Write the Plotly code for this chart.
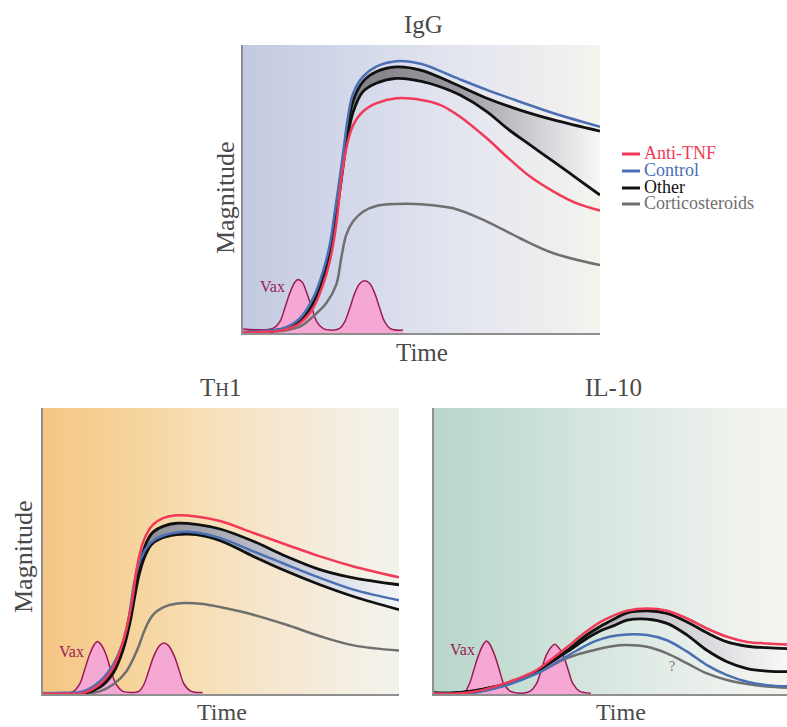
import plotly.graph_objects as go

W, H = 787, 727

# ---------------- DATA (x = time 0-100, y = magnitude 0-100) ----------------
# IgG panel
igg_vax_x = [0, 8.4, 10.3, 11.7, 13.1, 14.5, 15.4, 16.6, 17.9, 19.3, 20.7, 22.4, 24.3, 27.1, 28.5, 29.9, 31.3, 32.7, 34.1, 35.5, 36.9, 38.3, 39.7, 41.5, 44.8]
igg_vax_y = [1.4, 1.6, 3.9, 8.6, 13.8, 17.6, 18.6, 17.6, 13.8, 8.6, 3.9, 1.6, 1.0, 1.6, 3.9, 8.6, 13.8, 17.2, 18.1, 17.2, 13.8, 8.6, 3.9, 1.4, 1.0]

igg_blue_x = [0, 5.6, 11.2, 15.9, 19.6, 22.4, 24.3, 25.7, 27.1, 28.2, 29.4, 30.8, 33.6, 37.3, 43.0, 50.0, 58.9, 68.3, 77.6, 87.0, 100]
igg_blue_y = [0.3, 0.7, 1.6, 5.1, 12.0, 21.3, 30.6, 42.0, 54.0, 64.0, 75.0, 83.0, 89.0, 92.5, 94.4, 93.4, 89.0, 84.4, 80.3, 76.3, 71.6]

igg_hi_x = [0, 5.6, 11.2, 15.9, 19.6, 22.4, 24.3, 25.7, 27.1, 28.2, 29.4, 30.8, 33.6, 37.3, 43.0, 50.0, 58.9, 68.3, 77.6, 87.0, 100]
igg_hi_y = [0.2, 0.5, 1.4, 3.9, 10.3, 19.0, 28.2, 39.8, 51.4, 61.5, 72.5, 80.5, 87.3, 90.7, 92.4, 91.2, 86.7, 81.5, 77.4, 74.0, 70.1]

igg_lo_x = [0, 5.6, 11.2, 15.9, 19.6, 22.4, 24.3, 25.9, 27.3, 28.9, 30.8, 33.6, 37.3, 43.0, 50.0, 55.2, 60.8, 68.3, 73.9, 80.4, 87.0, 93.5, 100]
igg_lo_y = [0.2, 0.5, 1.3, 3.7, 10.0, 18.5, 27.5, 39.0, 51.0, 65.0, 76.5, 83.8, 86.7, 88.4, 87.4, 85.5, 82.6, 76.9, 71.1, 65.3, 59.5, 53.7, 47.9]

igg_red_x = [0, 5.6, 11.2, 15.9, 19.6, 22.4, 24.3, 26.1, 27.5, 28.9, 30.8, 33.6, 37.3, 43.0, 50.0, 55.2, 60.8, 68.3, 73.9, 80.4, 87.0, 93.5, 100]
igg_red_y = [0.2, 0.4, 1.0, 3.4, 8.6, 16.7, 24.8, 37.5, 53.0, 64.0, 72.0, 76.9, 79.7, 81.5, 80.9, 79.2, 75.1, 67.6, 61.2, 54.3, 49.1, 45.0, 42.5]

igg_gray_x = [0, 5.6, 11.2, 15.9, 19.6, 23.3, 26.1, 27.5, 28.9, 30.8, 33.6, 37.3, 43.0, 50.0, 58.9, 68.3, 77.6, 87.0, 100]
igg_gray_y = [0.1, 0.3, 0.8, 2.2, 5.7, 10.3, 16.7, 25.9, 34.0, 38.7, 42.1, 44.1, 44.8, 44.7, 43.3, 38.7, 32.9, 27.7, 23.6]

# TH1 panel
th1_vax_x = [0, 8.4, 10.3, 11.7, 13.1, 14.4, 15.3, 16.3, 17.7, 19.0, 20.5, 22.3, 24.5, 27.0, 28.4, 29.8, 31.2, 32.8, 34.0, 35.2, 36.8, 38.2, 39.6, 41.5, 44.8]
th1_vax_y = [0.5, 0.8, 3.5, 8.5, 13.8, 17.3, 18.4, 17.3, 13.8, 8.5, 3.5, 1.0, 0.5, 1.0, 3.5, 8.5, 13.5, 17.0, 17.8, 17.0, 13.5, 8.5, 3.5, 1.0, 0.5]

th1_red_x = [0, 5.6, 11.2, 15.9, 19.7, 22.5, 24.3, 25.3, 26.2, 27.6, 29.0, 30.9, 33.7, 37.5, 43.1, 50.0, 59.1, 68.4, 77.8, 87.2, 100]
th1_red_y = [0.1, 0.1, 0.3, 3.3, 9.1, 18.4, 27.7, 34.7, 42.9, 51.0, 55.7, 59.2, 61.5, 62.5, 62.1, 60.4, 56.3, 52.2, 48.1, 44.6, 40.8]

th1_hi_x = [0, 5.6, 11.2, 15.9, 19.7, 22.5, 24.3, 25.5, 26.5, 27.9, 29.2, 30.9, 33.7, 37.5, 43.1, 50.0, 59.1, 68.4, 77.8, 87.2, 100]
th1_hi_y = [0.1, 0.1, 0.2, 2.7, 8.5, 17.2, 26.6, 34.7, 41.7, 48.7, 53.4, 56.6, 58.6, 59.7, 59.3, 57.6, 53.4, 48.1, 43.5, 40.6, 38.2]

th1_blue_x = [0, 5.6, 11.2, 15.9, 19.7, 22.5, 23.9, 24.8, 25.7, 27.2, 29.0, 31.8, 37.5, 43.1, 50.0, 59.1, 68.4, 77.8, 87.2, 100]
th1_blue_y = [0.3, 0.4, 0.9, 4.4, 10.3, 18.4, 25.4, 32.4, 39.4, 46.4, 51.0, 54.3, 56.5, 56.5, 54.4, 49.9, 45.2, 40.6, 36.5, 32.8]

th1_lo_x = [0, 5.6, 11.2, 15.9, 19.7, 22.5, 24.5, 25.7, 27.0, 28.6, 30.4, 32.8, 37.5, 43.1, 50.0, 59.1, 68.4, 77.8, 87.2, 100]
th1_lo_y = [0.1, 0.1, 0.2, 2.3, 7.3, 15.5, 25.4, 33.6, 41.7, 48.1, 52.2, 54.2, 55.7, 55.7, 53.5, 48.1, 42.9, 38.2, 34.1, 29.5]

th1_gray_x = [0, 5.6, 11.2, 15.9, 19.7, 23.4, 26.7, 28.6, 30.9, 34.6, 39.3, 44.9, 50.0, 59.1, 68.4, 77.8, 87.2, 100]
th1_gray_y = [0.1, 0.1, 0.1, 0.9, 3.3, 7.9, 16.1, 22.5, 27.7, 30.7, 31.8, 31.5, 30.3, 27.7, 24.2, 20.2, 17.0, 15.2]

# IL-10 panel
il10_vax_x = [0, 8.5, 10.0, 11.3, 12.6, 14.0, 14.9, 15.8, 17.2, 18.5, 19.8, 21.6, 25.0, 27.3, 29.0, 30.4, 31.8, 33.2, 34.2, 35.2, 36.6, 38.0, 39.4, 41.2, 44.4]
il10_vax_y = [0.3, 0.6, 3.5, 8.5, 13.5, 17.4, 18.5, 17.4, 13.5, 8.5, 3.5, 1.0, 0.3, 1.0, 3.5, 8.5, 13.5, 16.4, 17.4, 16.4, 13.5, 8.5, 3.5, 1.0, 0.3]

il10_x = [0, 5.7, 11.3, 17.0, 22.7, 28.3, 33.0, 37.8, 42.5, 47.2, 51.0, 54.7, 60.3, 66.0, 71.7, 77.3, 83.0, 88.7, 94.3, 100]
il10_red_y = [0.2, 0.1, 0.8, 2.5, 4.9, 7.8, 11.9, 16.5, 21.2, 25.2, 27.5, 29.1, 29.9, 29.1, 26.4, 22.9, 20.0, 18.2, 17.7, 17.3]
il10_hi_y = [0.4, 0.4, 1.1, 2.5, 4.3, 7.4, 11.3, 15.3, 20.0, 23.7, 26.2, 28.4, 29.1, 28.2, 25.2, 21.4, 18.2, 16.7, 16.2, 15.9]
il10_lo_y = [0.4, 0.4, 1.1, 2.5, 4.3, 7.3, 11.0, 14.8, 18.8, 22.1, 23.9, 25.8, 26.2, 24.7, 20.6, 15.3, 11.3, 8.9, 8.0, 7.8]

il10_x2 = [0, 5.7, 11.3, 18.9, 24.6, 30.2, 35.9, 40.6, 45.3, 50.0, 54.7, 60.3, 66.0, 71.7, 77.3, 83.0, 88.7, 94.3, 100]
il10_blue_y = [0.1, 0.1, 0.4, 2.5, 4.9, 7.8, 11.9, 15.3, 18.3, 20.1, 20.8, 20.6, 18.8, 14.8, 10.1, 6.6, 4.3, 3.1, 2.7]
il10_gray_y = [0.1, 0.1, 0.6, 2.5, 4.9, 7.8, 11.6, 13.8, 15.3, 16.6, 17.1, 16.5, 14.2, 10.7, 7.2, 4.9, 3.5, 2.6, 2.2]

legend_labels = ["Anti-TNF", "Control", "Other", "Corticosteroids"]

# ---------------- STYLE ----------------
RED, BLUE, BLACK, GRAY = "#f03a57", "#4a6fb3", "#111111", "#6f6f6f"
VAX_LINE, VAX_FILL = "#9b1c55", "#f6a8d4"
FONT = "Liberation Serif"
TXT = "#4a4a4a"

bg_scales = {
    "igg": [[0, "#c2cae1"], [0.25, "#d0d6e9"], [0.5, "#dee1ed"], [0.7, "#e8e9f0"], [0.9, "#efefef"], [1, "#f4f4ee"]],
    "th1": [[0, "#f5c684"], [0.25, "#f6d49c"], [0.45, "#f7dfb6"], [0.65, "#f6e7cf"], [0.85, "#f4eee2"], [1, "#f3f3ec"]],
    "il10": [[0, "#b8d6ca"], [0.25, "#c7dfd5"], [0.45, "#d6e6df"], [0.65, "#e3ece7"], [0.85, "#eef1ed"], [1, "#f4f4ee"]],
}
band_scales = {
    "igg": [[0, "#7e7e84"], [0.45, "#9a9aa0"], [0.75, "#cfd0d4"], [1, "#f7f7f7"]],
    "th1": [[0, "#8c8c92"], [0.45, "#b9bcc6"], [0.75, "#dcdfe8"], [1, "#f4f5f8"]],
    "il10": [[0, "#9c9ca2"], [0.45, "#c4c4ca"], [0.75, "#e0e0e4"], [1, "#f8f8f8"]],
}

fig = go.Figure()

def px_x(p):
    return p / W

def px_y(p):
    return 1 - p / H

panels = {
    "igg": dict(xa="x", ya="y", dx=[px_x(243), px_x(600)], dy=[px_y(333), px_y(45)]),
    "th1": dict(xa="x2", ya="y2", dx=[px_x(43), px_x(399)], dy=[px_y(694), px_y(408)]),
    "il10": dict(xa="x3", ya="y3", dx=[px_x(434), 1.0], dy=[px_y(694), px_y(408)]),
}

def add_panel(key, vax, gray, lo, hi, blue, red):
    p = panels[key]
    xa, ya = p["xa"], p["ya"]
    fig.add_trace(go.Heatmap(x=[0, 100], y=[0, 100], z=[[0, 1], [0, 1]], zmin=0, zmax=1,
                             zsmooth="best", colorscale=bg_scales[key], showscale=False,
                             hoverinfo="skip", xaxis=xa, yaxis=ya))
    fig.add_trace(go.Scatter(x=vax[0], y=vax[1], mode="lines", fill="tozeroy",
                             fillcolor=VAX_FILL, line=dict(color=VAX_LINE, width=1.5, shape="spline"),
                             showlegend=False, xaxis=xa, yaxis=ya))
    fig.add_trace(go.Scatter(x=gray[0], y=gray[1], mode="lines",
                             line=dict(color=GRAY, width=2.5, shape="spline"),
                             showlegend=False, xaxis=xa, yaxis=ya))
    fig.add_trace(go.Scatter(x=lo[0], y=lo[1], mode="lines",
                             line=dict(color=BLACK, width=2.8, shape="spline"),
                             showlegend=False, xaxis=xa, yaxis=ya))
    fig.add_trace(go.Scatter(x=hi[0], y=hi[1], mode="lines", fill="tonexty",
                             fillgradient=dict(type="horizontal", colorscale=band_scales[key], start=28, stop=100),
                             line=dict(color=BLACK, width=2.8, shape="spline"),
                             showlegend=False, xaxis=xa, yaxis=ya))
    fig.add_trace(go.Scatter(x=blue[0], y=blue[1], mode="lines",
                             line=dict(color=BLUE, width=2.5, shape="spline"),
                             showlegend=False, xaxis=xa, yaxis=ya))
    fig.add_trace(go.Scatter(x=red[0], y=red[1], mode="lines",
                             line=dict(color=RED, width=2.5, shape="spline"),
                             showlegend=False, xaxis=xa, yaxis=ya))

add_panel("igg", (igg_vax_x, igg_vax_y), (igg_gray_x, igg_gray_y), (igg_lo_x, igg_lo_y),
          (igg_hi_x, igg_hi_y), (igg_blue_x, igg_blue_y), (igg_red_x, igg_red_y))
add_panel("th1", (th1_vax_x, th1_vax_y), (th1_gray_x, th1_gray_y), (th1_lo_x, th1_lo_y),
          (th1_hi_x, th1_hi_y), (th1_blue_x, th1_blue_y), (th1_red_x, th1_red_y))
add_panel("il10", (il10_vax_x, il10_vax_y), (il10_x2, il10_gray_y), (il10_x, il10_lo_y),
          (il10_x, il10_hi_y), (il10_x2, il10_blue_y), (il10_x, il10_red_y))

axis_common = dict(range=[0, 100], showgrid=False, zeroline=False, showticklabels=False,
                   ticks="", showline=True, linecolor="#8f8f8f", linewidth=2, fixedrange=True)

layout = dict(width=W, height=H, margin=dict(l=0, r=0, t=0, b=0),
              paper_bgcolor="white", plot_bgcolor="white", showlegend=False,
              font=dict(family=FONT, color=TXT))
for i, key in enumerate(["igg", "th1", "il10"]):
    sfx = "" if i == 0 else str(i + 1)
    pp = panels[key]
    layout["xaxis" + sfx] = dict(axis_common, domain=pp["dx"], anchor="y" + sfx)
    layout["yaxis" + sfx] = dict(axis_common, domain=pp["dy"], anchor="x" + sfx)
fig.update_layout(**layout)

ann = []
def text_px(t, x, y, size, color=TXT, angle=0, xanchor="center"):
    ann.append(dict(text=t, x=px_x(x), y=px_y(y), xref="paper", yref="paper", showarrow=False,
                    font=dict(family=FONT, size=size, color=color), textangle=angle,
                    xanchor=xanchor, yanchor="middle", borderpad=0))

# titles
text_px("IgG", 423, 24, 25)
text_px("T<span style='font-size:19px'>H</span>1", 221, 387, 25)
text_px("IL-10", 613, 387, 25)
# axis titles
text_px("Time", 422, 352, 25)
text_px("Time", 222, 712, 24)
text_px("Time", 621, 712, 24)
text_px("Magnitude", 225, 197, 26, angle=-90)
text_px("Magnitude", 23, 557, 26, angle=-90)

# Vax labels and question mark (data coordinates)
for xa, ya, vx, vy in [("x", "y", 8.4, 16.0), ("x2", "y2", 8.1, 15.0), ("x3", "y3", 8.2, 15.7)]:
    ann.append(dict(text="Vax", x=vx, y=vy, xref=xa, yref=ya, showarrow=False,
                    font=dict(family=FONT, size=16, color=VAX_LINE)))
ann.append(dict(text="?", x=67.4, y=9.5, xref="x3", yref="y3", showarrow=False,
                font=dict(family=FONT, size=14, color="#777777")))

# legend (text + short line samples)
legend_colors = [RED, BLUE, BLACK, GRAY]
legend_rows = [153, 170, 187, 203]
shapes = []
for lab, col, ry in zip(legend_labels, legend_colors, legend_rows):
    text_px(lab, 643, ry, 18, color=col, xanchor="left")
    shapes.append(dict(type="line", xref="paper", yref="paper", x0=px_x(622), x1=px_x(640),
                       y0=px_y(ry + 1), y1=px_y(ry + 1), line=dict(color=col, width=3)))

fig.update_layout(annotations=ann, shapes=shapes)
fig.write_html("out.html", config={"displayModeBar": False},
               post_script="document.body.style.margin='0';document.body.style.padding='0';document.body.style.overflow='hidden';")
